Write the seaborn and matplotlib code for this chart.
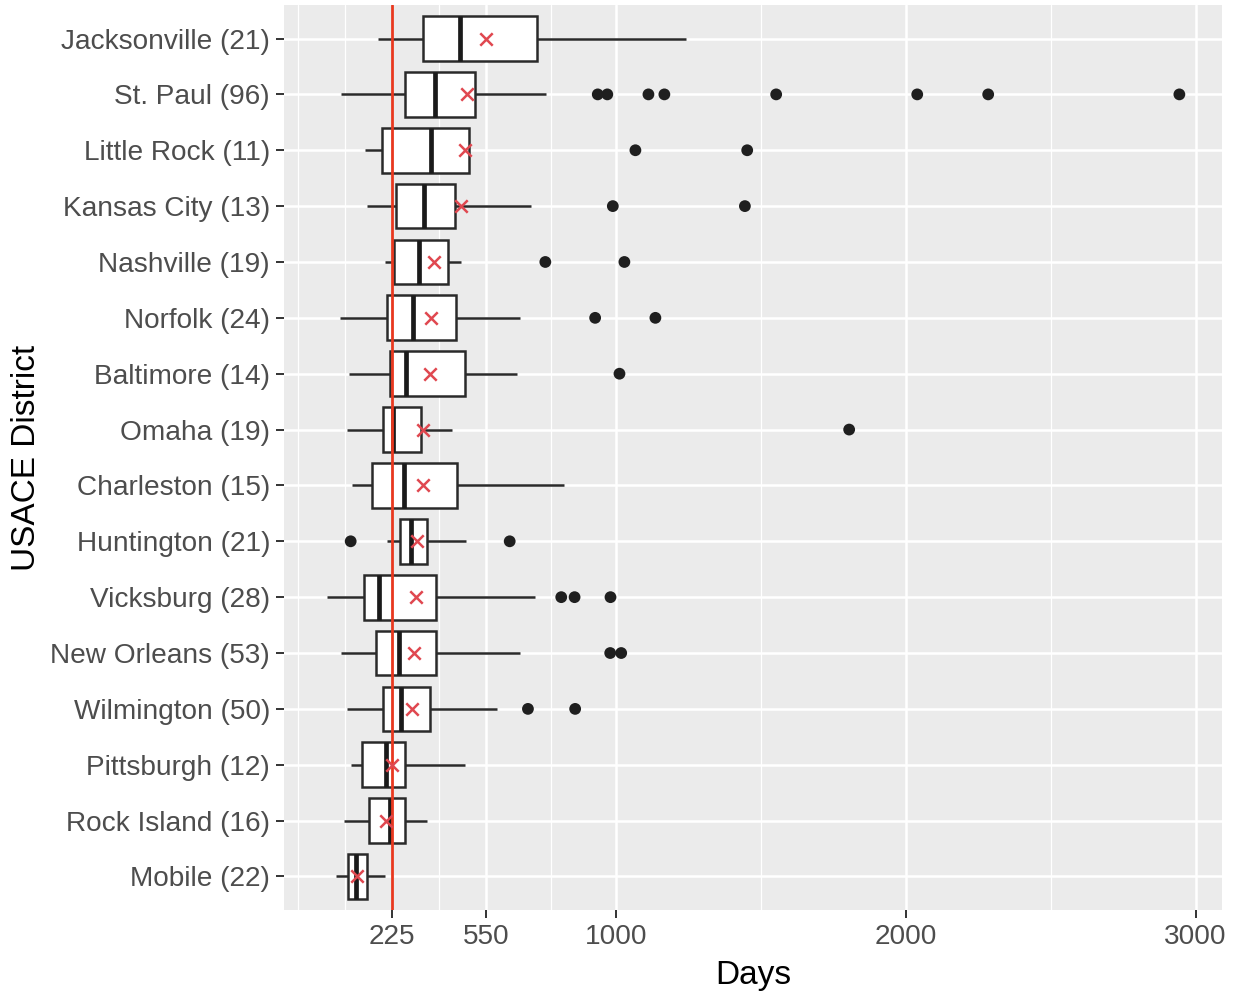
import numpy as np
import pandas as pd
import matplotlib
matplotlib.use("Agg")
import matplotlib.pyplot as plt
import seaborn as sns

districts = ["Jacksonville (21)", "St. Paul (96)", "Little Rock (11)", "Kansas City (13)",
             "Nashville (19)", "Norfolk (24)", "Baltimore (14)", "Omaha (19)",
             "Charleston (15)", "Huntington (21)", "Vicksburg (28)", "New Orleans (53)",
             "Wilmington (50)", "Pittsburgh (12)", "Rock Island (16)", "Mobile (22)"]
whisker_low = [176, 51, 132, 138, 201, 46, 77, 69, 89, 209, 0, 51, 69, 83, 60, 31]
q1 = [331, 270, 191, 241, 233, 207, 218, 193, 158, 255, 129, 170, 193, 122, 146, 74]
median = [459, 373, 362, 336, 319, 298, 273, 229, 266, 290, 180, 250, 258, 204, 218, 101]
q3 = [727, 511, 490, 442, 419, 448, 479, 327, 450, 348, 379, 379, 356, 272, 272, 141]
whisker_high = [1239, 758, 492, 704, 465, 666, 658, 434, 821, 480, 721, 666, 589, 479, 348, 201]
means = [549, 486, 479, 463, 370, 362, 356, 331, 331, 313, 308, 301, 295, 224, 204, 105]
outlier_district = ["St. Paul (96)"] * 8 + ["Little Rock (11)"] * 2 + ["Kansas City (13)"] * 2 \
    + ["Nashville (19)"] * 2 + ["Norfolk (24)"] * 2 + ["Baltimore (14)", "Omaha (19)"] \
    + ["Huntington (21)"] * 2 + ["Vicksburg (28)"] * 3 + ["New Orleans (53)"] * 2 \
    + ["Wilmington (50)"] * 2
outlier_days = [936, 969, 1111, 1166, 1552, 2039, 2284, 2944,
                1066, 1452, 988, 1444, 755, 1028, 927, 1135, 1011, 1804,
                83, 632, 810, 856, 980, 979, 1017, 695, 858]
x_breaks = [225, 550, 1000, 2000, 3000]
threshold = 225

# five-number table per district (drawn with whiskers at min / max)
rows = []
for i, d in enumerate(districts):
    for v in (whisker_low[i], q1[i], median[i], q3[i], whisker_high[i]):
        rows.append({"District": d, "Days": v})
box_df = pd.DataFrame(rows)
mean_df = pd.DataFrame({"District": districts, "Days": means,
                        "pos": np.arange(len(districts))})
out_df = pd.DataFrame({"District": outlier_district, "Days": outlier_days})
out_df["pos"] = out_df["District"].map({d: i for i, d in enumerate(districts)})

sns.set_theme(style="darkgrid")
plt.rcParams["font.family"] = ["Liberation Sans", "DejaVu Sans"]

fig = plt.figure(figsize=(12.37, 9.96), dpi=100)
ax = fig.add_axes([284 / 1237, 1 - 910 / 996, (1222 - 284) / 1237, 905 / 996])
ax.set_facecolor("#EBEBEB")

sns.boxplot(data=box_df, x="Days", y="District", order=districts, orient="h",
            whis=(0, 100), width=0.8, color="white", linecolor="#2A2A2A",
            linewidth=1.8, showcaps=False, showfliers=False,
            medianprops={"linewidth": 3.4, "color": "#1a1a1a"}, ax=ax, zorder=2)

ax.axvline(threshold, color="#E8381F", lw=2, zorder=3)

sns.scatterplot(data=out_df, x="Days", y="pos", color="#1F1F1F", s=72,
                edgecolor="none", ax=ax, zorder=4, legend=False)
sns.scatterplot(data=mean_df, x="Days", y="pos", marker="x", color="#E04850",
                s=80, linewidth=1.8, ax=ax, zorder=5, legend=False)

all_vals = whisker_low + whisker_high + outlier_days
lo, hi = min(all_vals), max(all_vals)
pad = 0.05 * (hi - lo)
ax.set_xlim(lo - pad, hi + pad)
n = len(districts)
ax.set_ylim(n - 1 + 0.6, -0.6)

ax.set_xticks(x_breaks)
ax.set_xticklabels([str(b) for b in x_breaks])
step0 = x_breaks[1] - x_breaks[0]
ext = [x_breaks[0] - step0] + x_breaks
minor = [ext[0]] + [(a + b) / 2 for a, b in zip(ext[:-1], ext[1:])]
ax.set_xticks(minor, minor=True)
ax.set_yticks(range(n))
ax.set_yticklabels(districts)

ax.grid(which="major", color="white", lw=1.8)
ax.grid(which="minor", axis="x", color="white", lw=0.9)
ax.set_axisbelow(True)
for s in ax.spines.values():
    s.set_visible(False)

ax.tick_params(which="major", length=6, width=1.4, color="#333333",
               labelsize=20.2, labelcolor="#4D4D4D", pad=4)
ax.tick_params(which="minor", length=0)
ax.tick_params(axis="y", left=True)
ax.tick_params(axis="x", bottom=True)

ax.set_xlabel("Days", fontsize=24, color="black", labelpad=7)
ax.set_ylabel("USACE District", fontsize=24, color="black", labelpad=6)

fig.savefig("out.png", dpi=100)
